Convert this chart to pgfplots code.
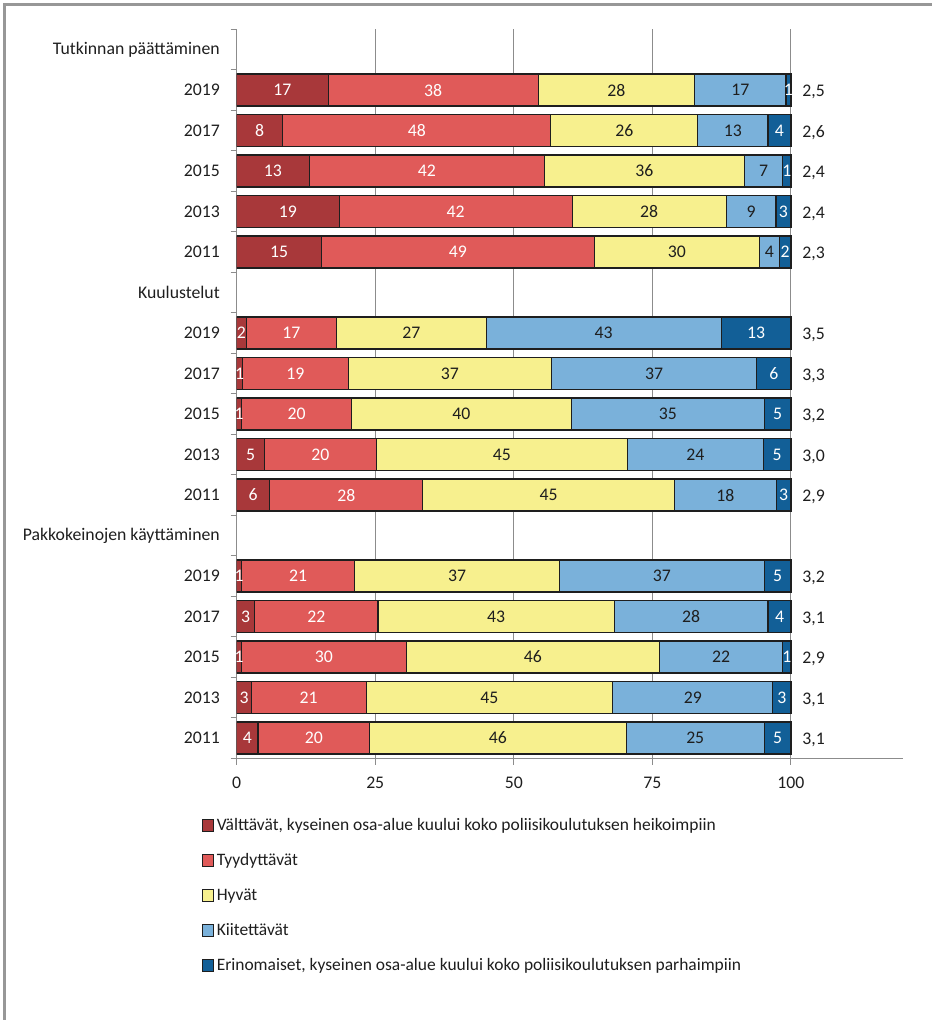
\documentclass[border=0pt]{standalone}
\usepackage{fontspec}
\setmainfont{Carlito}
\usepackage{pgfplots}
\pgfplotsset{compat=1.18}

\definecolor{c1}{HTML}{A8383A}
\definecolor{c2}{HTML}{E05A59}
\definecolor{c3}{HTML}{F7F08E}
\definecolor{c4}{HTML}{7AB1DA}
\definecolor{c5}{HTML}{125F97}
\definecolor{gridgray}{HTML}{8C8C8C}
\definecolor{txt}{HTML}{1E1E1E}

\newcommand{\fnt}{\fontsize{13.3pt}{16pt}\selectfont}

\pgfplotsset{
  frame/.style={
    at={(177.5pt,196.3pt)}, anchor=south west,
    scale only axis, width=499.7pt, height=546.75pt,
    xmin=0, xmax=120.2, ymin=-0.5, ymax=17.5, y dir=reverse,
  },
  lbl/.style={draw=none, forget plot, nodes near coords,
    point meta=explicit symbolic,
    nodes near coords align={anchor=center},
    every node near coord/.append style={font=\fnt, text=#1, inner sep=0pt}},
}

\begin{document}
\begin{tikzpicture}
% outer frame (top and left edges only)
\draw[gridgray!90, line width=2pt] (3.5pt,0pt) -- (3.5pt,761.5pt) -- (699pt,761.5pt);

\begin{axis}[
  frame,
  xbar stacked, bar width=24pt,
  axis x line*=bottom, axis y line*=left,
  axis line style={gridgray, line width=0.75pt},
  xtick={0,25,50,75,100},
  xmajorgrids, grid style={gridgray, line width=0.75pt},
  ytick={0,...,17},
  yticklabels={Tutkinnan päättäminen,2019,2017,2015,2013,2011,
    Kuulustelut,2019,2017,2015,2013,2011,
    Pakkokeinojen käyttäminen,2019,2017,2015,2013,2011},
  minor ytick={-0.5,0.5,...,17.5},
  tick align=outside,
  major tick length=5pt, minor tick length=4.5pt,
  ytick style={draw=none},
  minor y tick style={draw=gridgray, line width=0.75pt},
  xtick style={draw=gridgray, line width=0.75pt},
  tick label style={font=\fnt, text=txt},
  /pgf/number format/assume math mode=true,
  yticklabel style={anchor=east, inner sep=0pt, xshift=-7.5pt},
  xticklabel style={anchor=north, inner sep=0pt, yshift=-9pt},
  legend cell align=left,
  legend style={at={(axis description cs:-0.0525,-0.078)}, anchor=north west,
    draw=none, fill=none, font=\fontsize{13.1pt}{16pt}\selectfont, text=txt,
    row sep=11.9pt, inner sep=0pt,
    /tikz/every even column/.append style={column sep=1.5pt}},
  legend image code/.code={\draw[#1, draw=txt, line width=0.7pt] (0pt,-4.4pt) rectangle (8.4pt,4.4pt);},
]
\addplot[fill=c1, draw=txt, line width=0.8pt] coordinates {
  (16.5,1) (8.3,2) (13.1,3) (18.5,4) (15.3,5)
  (1.7,7) (1.1,8) (0.85,9) (5.0,10) (5.95,11)
  (0.85,13) (3.25,14) (0.85,15) (2.65,16) (3.85,17)};
\addlegendentry{Välttävät, kyseinen osa-alue kuului koko poliisikoulutuksen heikoimpiin}
\addplot[fill=c2, draw=txt, line width=0.8pt] coordinates {
  (37.9,1) (48.4,2) (42.4,3) (42.05,4) (49.2,5)
  (16.3,7) (19.0,8) (19.85,9) (20.2,10) (27.65,11)
  (20.45,13) (22.25,14) (29.8,15) (20.7,16) (20.15,17)};
\addlegendentry{Tyydyttävät}
\addplot[fill=c3, draw=txt, line width=0.8pt] coordinates {
  (28.2,1) (26.5,2) (36.1,3) (27.75,4) (29.8,5)
  (27.0,7) (36.7,8) (39.7,9) (45.3,10) (45.35,11)
  (36.9,13) (42.6,14) (45.6,15) (44.5,16) (46.25,17)};
\addlegendentry{Hyvät}
\addplot[fill=c4, draw=txt, line width=0.8pt] coordinates {
  (16.5,1) (12.65,2) (6.9,3) (9.0,4) (3.6,5)
  (42.4,7) (36.95,8) (34.8,9) (24.5,10) (18.4,11)
  (37.0,13) (27.75,14) (22.25,15) (28.85,16) (24.95,17)};
\addlegendentry{Kiitettävät}
\addplot[fill=c5, draw=txt, line width=0.8pt] coordinates {
  (0.9,1) (4.15,2) (1.5,3) (2.7,4) (2.1,5)
  (12.6,7) (6.25,8) (4.8,9) (5.0,10) (2.65,11)
  (4.8,13) (4.15,14) (1.5,15) (3.3,16) (4.8,17)};
\addlegendentry{Erinomaiset, kyseinen osa-alue kuului koko poliisikoulutuksen parhaimpiin}
\end{axis}

% segment labels and mean values
\begin{axis}[frame, hide axis, clip=false]
\addplot[lbl=white] coordinates {
  (8.25,1)[17] (4.15,2)[8] (6.55,3)[13] (9.25,4)[19] (7.65,5)[15]
  (0.85,7)[2] (0.55,8)[1] (0.43,9)[1] (2.5,10)[5] (2.98,11)[6]
  (0.43,13)[1] (1.63,14)[3] (0.43,15)[1] (1.33,16)[3] (1.93,17)[4]};
\addplot[lbl=white] coordinates {
  (35.45,1)[38] (32.5,2)[48] (34.3,3)[42] (39.5,4)[42] (39.9,5)[49]
  (9.85,7)[17] (10.6,8)[19] (10.8,9)[20] (15.1,10)[20] (19.78,11)[28]
  (11.08,13)[21] (14.38,14)[22] (15.75,15)[30] (13.0,16)[21] (13.93,17)[20]};
\addplot[lbl=txt] coordinates {
  (68.5,1)[28] (69.95,2)[26] (73.55,3)[36] (74.4,4)[28] (79.4,5)[30]
  (31.5,7)[27] (38.45,8)[37] (40.55,9)[40] (47.85,10)[45] (56.28,11)[45]
  (39.75,13)[37] (46.8,14)[43] (53.45,15)[46] (45.6,16)[45] (47.13,17)[46]};
\addplot[lbl=txt] coordinates {
  (90.85,1)[17] (89.5,2)[13] (95.05,3)[7] (92.8,4)[9] (96.1,5)[4]
  (66.2,7)[43] (75.3,8)[37] (77.8,9)[35] (82.75,10)[24] (88.15,11)[18]
  (76.7,13)[37] (81.98,14)[28] (87.38,15)[22] (82.28,16)[29] (82.73,17)[25]};
\addplot[lbl=white] coordinates {
  (99.55,1)[1] (97.9,2)[4] (99.25,3)[1] (98.65,4)[3] (98.95,5)[2]
  (93.7,7)[13] (96.9,8)[6] (97.6,9)[5] (97.5,10)[5] (98.68,11)[3]
  (97.6,13)[5] (97.93,14)[4] (99.25,15)[1] (98.35,16)[3] (97.6,17)[5]};
\addplot[draw=none, forget plot, nodes near coords, point meta=explicit symbolic,
  nodes near coords align={anchor=west, yshift=-1.5pt},
  every node near coord/.append style={font=\fnt, text=txt, inner sep=0pt}] coordinates {
  (102,1)[{2,5}] (102,2)[{2,6}] (102,3)[{2,4}] (102,4)[{2,4}] (102,5)[{2,3}]
  (102,7)[{3,5}] (102,8)[{3,3}] (102,9)[{3,2}] (102,10)[{3,0}] (102,11)[{2,9}]
  (102,13)[{3,2}] (102,14)[{3,1}] (102,15)[{2,9}] (102,16)[{3,1}] (102,17)[{3,1}]};
\end{axis}

\pgfresetboundingbox
\path (0pt,0pt) rectangle (699pt,765pt);
\end{tikzpicture}
\end{document}
